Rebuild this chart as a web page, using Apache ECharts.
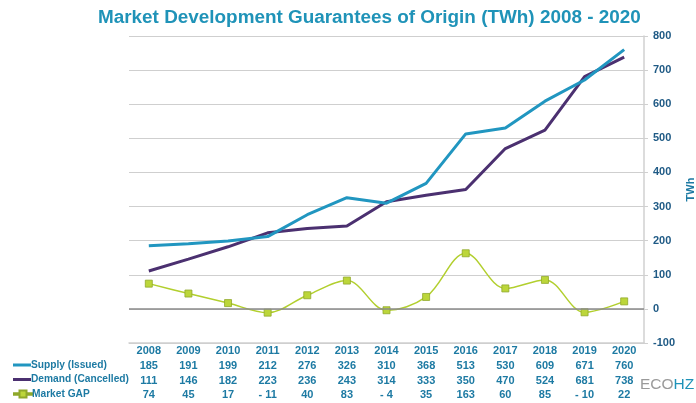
<!DOCTYPE html>
<html><head><meta charset="utf-8">
<script src="https://cdn.jsdelivr.net/npm/echarts@6/dist/echarts.min.js"></script>
<style>html,body{margin:0;padding:0;background:#fff}#c{width:696px;height:403px}</style>
</head><body><div id="c"></div>
<script>
var years = ['2008','2009','2010','2011','2012','2013','2014','2015','2016','2017','2018','2019','2020'];
var supply = [185,191,199,212,276,326,310,368,513,530,609,671,760];
var demand = [111,146,182,223,236,243,314,333,350,470,524,681,738];
var gap = [74,45,17,-11,40,83,-4,35,163,60,85,-10,22];
var yTicks = {min:-100, max:800, interval:100};

var ff = '"Liberation Sans", Arial, sans-serif';
var textBlue = '#1d7aa3';
function fmtNum(v){ return v < 0 ? '- ' + Math.abs(v) : String(v); }

var lineIcon = 'path://M0,3.5 L18,3.5 L18,6.5 L0,6.5 Z';
var gapIcon = 'path://M0,4.3 L5.5,4.3 L5.5,1.5 L12.5,1.5 L12.5,4.3 L18,4.3 L18,5.7 L12.5,5.7 L12.5,8.5 L5.5,8.5 L5.5,5.7 L0,5.7 Z';
function mkLegend(name, icon, top){
  return {orient:'vertical', left:8, top:top, itemWidth:18, itemHeight:10, itemGap:0,
    textStyle:{color:textBlue, fontSize:10.2, fontWeight:'bold', fontFamily:ff, padding:[0,0,0,-5]},
    data:[{name:name, icon:icon}]};
}

var chart = echarts.init(document.getElementById('c'));
chart.setOption({
  animation:false,
  backgroundColor:'#fff',
  title:{text:'Market Development Guarantees of Origin (TWh) 2008 - 2020', left:98, top:8, padding:0,
    textStyle:{color:'#1f93b8', fontSize:18.9, fontWeight:'bold', fontFamily:ff}},
  legend:[mkLegend('Supply (Issued)', lineIcon, 355), mkLegend('Demand (Cancelled)', lineIcon, 369.5), mkLegend('Market GAP', gapIcon, 384)],
  grid:{left:129, right:52, top:36, bottom:60, outerBoundsMode:'none', containLabel:false},
  xAxis:{type:'category', data:years, boundaryGap:true,
    axisLine:{show:true, onZero:false, lineStyle:{color:'#d0d0d0', width:1.5}},
    axisTick:{show:false},
    axisLabel:{margin:1, interval:0, fontFamily:ff, fontWeight:'bold', fontSize:11, color:textBlue, lineHeight:14.6,
      formatter:function(v, i){ return v + '\n' + supply[i] + '\n' + demand[i] + '\n' + fmtNum(gap[i]); }}},
  yAxis:{type:'value', position:'right', min:yTicks.min, max:yTicks.max, interval:yTicks.interval,
    name:'TWh', nameLocation:'middle', nameGap:32, nameRotate:90,
    nameTextStyle:{color:textBlue, fontWeight:'bold', fontSize:11, fontFamily:ff},
    axisLine:{show:true, lineStyle:{color:'#d0d0d0', width:1.5}},
    axisTick:{show:true, length:4, lineStyle:{color:'#d0d0d0'}},
    axisLabel:{margin:9, color:'#1f5a85', fontWeight:'bold', fontSize:11, fontFamily:ff},
    splitLine:{lineStyle:{color:'#cfcfcf', width:1.2}}},
  series:[
    {name:'Supply (Issued)', type:'line', data:supply, symbol:'none', z:3,
      lineStyle:{color:'#2196c0', width:3}, itemStyle:{color:'#2196c0'}},
    {name:'Demand (Cancelled)', type:'line', data:demand, symbol:'none', z:2,
      lineStyle:{color:'#4b3070', width:3}, itemStyle:{color:'#4b3070'}},
    {name:'Market GAP', type:'line', data:gap, smooth:0.35, symbol:'rect', symbolSize:7, z:4,
      lineStyle:{color:'#b2cf2e', width:1.5},
      itemStyle:{color:'#bcd63a', borderColor:'#8fa82a', borderWidth:0.8},
      markLine:{silent:true, symbol:'none', label:{show:false},
        lineStyle:{color:'#8a8a8a', width:1.5, type:'solid'}, data:[{yAxis:0}]}}
  ],
  graphic:[{type:'text', left:640, top:377,
    style:{text:'{a|ECO}{b|HZ}', rich:{a:{fill:'#9a9a9a', fontSize:15.5, fontFamily:ff},
      b:{fill:'#1f93b8', fontSize:15.5, fontFamily:ff}}}}]
});
</script></body></html>
